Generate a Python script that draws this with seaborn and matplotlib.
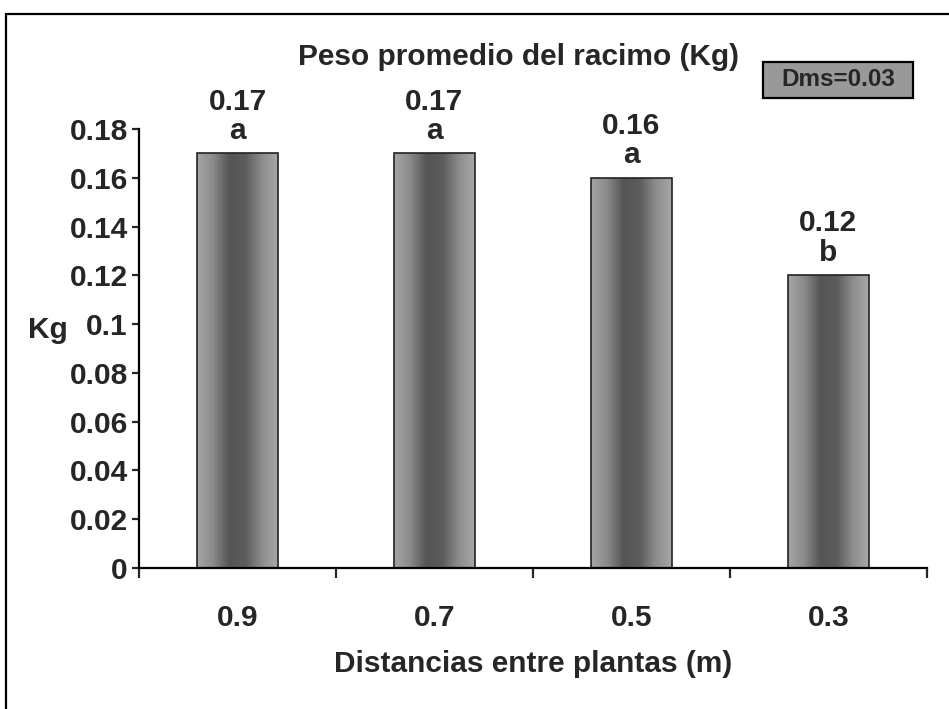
import numpy as np
import pandas as pd
import matplotlib
matplotlib.use("Agg")
import matplotlib.pyplot as plt
from matplotlib.patches import Rectangle
from matplotlib.colors import LinearSegmentedColormap
import seaborn as sns

# ---- data ----
distancias = ["0.9", "0.7", "0.5", "0.3"]
peso = [0.17, 0.17, 0.16, 0.12]
letras = ["a", "a", "a", "b"]
etiquetas_valor = ["0.17", "0.17", "0.16", "0.12"]
yticks = [0, 0.02, 0.04, 0.06, 0.08, 0.1, 0.12, 0.14, 0.16, 0.18]
ytick_labels = ["0", "0.02", "0.04", "0.06", "0.08", "0.1", "0.12", "0.14", "0.16", "0.18"]
titulo = "Peso promedio del racimo (Kg)"
xlabel = "Distancias entre plantas (m)"
ylabel = "Kg"
dms = "Dms=0.03"

sns.set_theme(style="white")
plt.rcParams["font.family"] = ["Liberation Sans", "DejaVu Sans"]
plt.rcParams["font.weight"] = "bold"

df = pd.DataFrame({"dist": distancias, "peso": peso})

fig = plt.figure(figsize=(9.49, 7.09), dpi=100)
ax = fig.add_axes([139/949, 1-568/709, (927-139)/949, (568-129)/709])

sns.barplot(data=df, x="dist", y="peso", order=distancias, color="#888888",
            width=0.41, edgecolor="#222222", linewidth=1.2, ax=ax, errorbar=None)

# cylinder-like shading in bars
cmap = LinearSegmentedColormap.from_list(
    "cyl", ["#a6a6a6", "#8a8a8a", "#555555", "#5c5c5c", "#8c8c8c", "#a8a8a8"])
grad = np.linspace(0, 1, 256).reshape(1, -1)
for p in ax.patches:
    x0, y0 = p.get_x(), p.get_y()
    w, h = p.get_width(), p.get_height()
    im = ax.imshow(grad, cmap=cmap, aspect="auto",
                   extent=(x0, x0 + w, y0, y0 + h), zorder=p.get_zorder(),
                   interpolation="bicubic")
    im.set_clip_path(p)
    p.set_facecolor("none")
    p.set_zorder(p.get_zorder() + 0.5)

ax.set_xlim(-0.5, 3.5)
ax.set_ylim(0, 0.18)

# annotations
for i, (v, lab, let) in enumerate(zip(peso, etiquetas_valor, letras)):
    ax.annotate(lab + "\n" + let, xy=(i, v), xytext=(0, 6), textcoords="offset points",
                ha="center", va="bottom", fontsize=21.5, fontweight="bold",
                linespacing=1.07)

# axes styling
for s in ["top", "right"]:
    ax.spines[s].set_visible(False)
for s in ["left", "bottom"]:
    ax.spines[s].set_linewidth(1.6)
    ax.spines[s].set_color("black")

ax.set_yticks(yticks)
ax.set_yticklabels(ytick_labels, fontsize=21.5, fontweight="bold")
ax.tick_params(axis="y", direction="out", length=5, width=1.6, pad=3, left=True)

ax.set_xticks([-0.5, 0.5, 1.5, 2.5, 3.5])
ax.set_xticklabels([])
ax.set_xticks([0, 1, 2, 3], minor=True)
ax.set_xticklabels(distancias, minor=True, fontsize=21.5, fontweight="bold")
ax.tick_params(axis="x", which="major", direction="out", length=7, width=1.6, bottom=True)
ax.tick_params(axis="x", which="minor", length=0, pad=26)

ax.set_xlabel(xlabel, fontsize=21.5, fontweight="bold", labelpad=13)
ax.set_ylabel(ylabel, fontsize=21.5, fontweight="bold", rotation=0, va="center")
ax.yaxis.set_label_coords(-0.116, 0.542)

fig.text(519/949, 1-57/709, titulo, ha="center", va="center", fontsize=21.5, fontweight="bold")
fig.patches.append(Rectangle((763/949, 1-98/709), 150/949, 36/709, transform=fig.transFigure,
                             facecolor="#999999", edgecolor="black", linewidth=1.6))
fig.text(838/949, 1-80/709, dms, ha="center", va="center", fontsize=17.5, fontweight="bold")

# outer frame
fig.patches.append(Rectangle((6/949, -0.1), 1.2, 1.1 - 14/709, transform=fig.transFigure,
                             fill=False, edgecolor="black", linewidth=1.6))

fig.savefig("out.png", dpi=100)
